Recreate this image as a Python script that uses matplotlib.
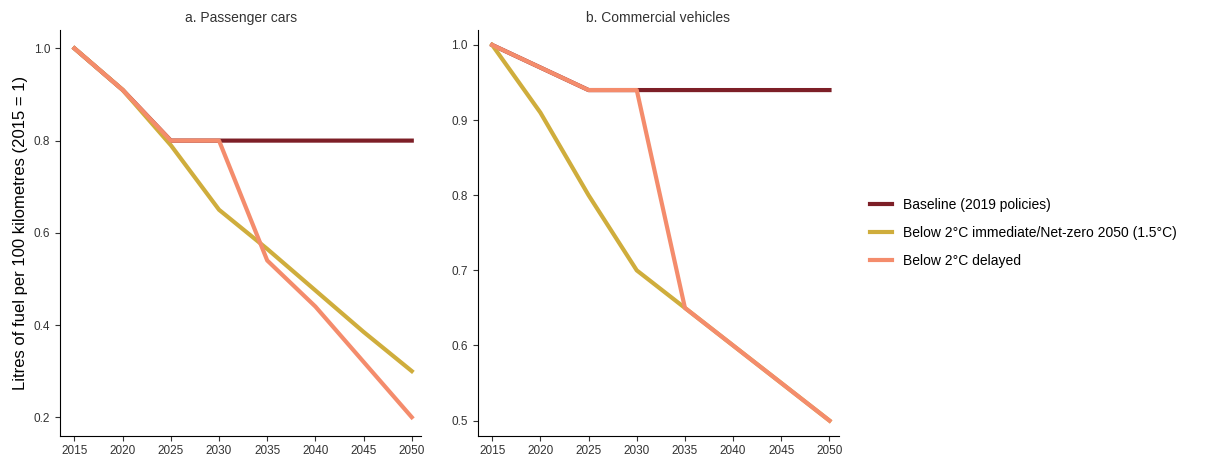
import matplotlib.pyplot as plt

plt.rcParams['font.family'] = ['Liberation Sans', 'DejaVu Sans']

years = [2015, 2020, 2025, 2030, 2035, 2040, 2045, 2050]

# a. Passenger cars
car_baseline = [1.0, 0.91, 0.80, 0.80, 0.80, 0.80, 0.80, 0.80]
car_immediate = [1.0, 0.91, 0.79, 0.65, 0.565, 0.475, 0.385, 0.30]
car_delayed = [1.0, 0.91, 0.80, 0.80, 0.54, 0.44, 0.32, 0.20]

# b. Commercial vehicles
com_baseline = [1.0, 0.97, 0.94, 0.94, 0.94, 0.94, 0.94, 0.94]
com_immediate = [1.0, 0.91, 0.80, 0.70, 0.65, 0.60, 0.55, 0.50]
com_delayed = [1.0, 0.97, 0.94, 0.94, 0.65, 0.60, 0.55, 0.50]

labels = ["Baseline (2019 policies)",
          "Below 2°C immediate/Net-zero 2050 (1.5°C)",
          "Below 2°C delayed"]
colors = ["#7d1f27", "#cfad3c", "#f48c6c"]

fig = plt.figure(figsize=(12.25, 4.61), dpi=100)
ax1 = fig.add_axes([0.049, 0.055, 0.295, 0.88])
ax2 = fig.add_axes([0.39, 0.055, 0.295, 0.88])

panels = [(ax1, car_baseline, car_immediate, car_delayed, "a. Passenger cars", [0.2, 0.4, 0.6, 0.8, 1.0], (0.16, 1.04)),
          (ax2, com_baseline, com_immediate, com_delayed, "b. Commercial vehicles", [0.5, 0.6, 0.7, 0.8, 0.9, 1.0], (0.48, 1.02))]

for ax, base, imm, dly, title, yt, yl in panels:
    ax.plot(years, base, color=colors[0], lw=3, label=labels[0])
    ax.plot(years, imm, color=colors[1], lw=3, label=labels[1])
    ax.plot(years, dly, color=colors[2], lw=3, label=labels[2])
    ax.set_title(title, fontsize=10, color="#333333")
    ax.set_xticks(years)
    ax.set_yticks(yt)
    ax.set_ylim(*yl)
    ax.set_xlim(2013.5, 2051)
    ax.tick_params(labelsize=8.5, colors="#333333")
    for s in ["top", "right"]:
        ax.spines[s].set_visible(False)

ax1.set_ylabel("Litres of fuel per 100 kilometres (2015 = 1)", fontsize=12)
ax2.legend(loc="center left", bbox_to_anchor=(1.05, 0.5), frameon=False, fontsize=10,
           handlelength=1.6, labelspacing=1.0)

fig.savefig("out.png", dpi=100)
